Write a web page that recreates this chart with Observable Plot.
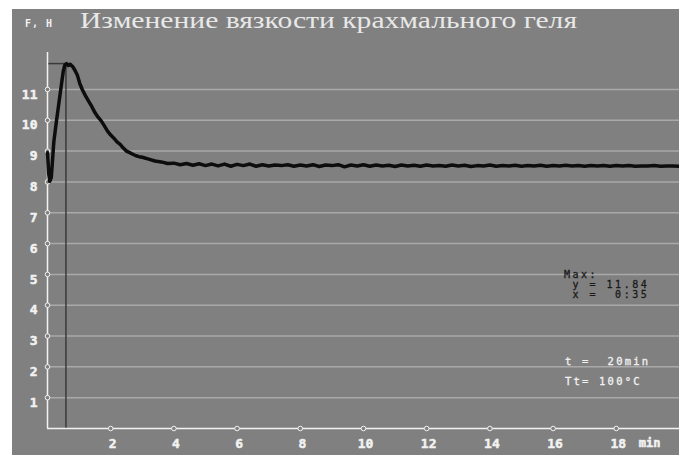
<!DOCTYPE html>
<html>
<head>
<meta charset="utf-8">
<script src="https://cdn.jsdelivr.net/npm/d3@7"></script>
<script src="https://cdn.jsdelivr.net/npm/@observablehq/plot@0.6"></script>
<style>
  html, body { margin: 0; padding: 0; background: #fff; }
  #wrap { position: relative; width: 679px; height: 455px; background: #fff; overflow: hidden; }
  #panel { position: absolute; left: 12px; top: 9px; width: 667px; height: 446px; background: #808080; }
  #overlay { position: absolute; left: 0; top: 0; pointer-events: none; }
  .mono { font-family: "DejaVu Sans Mono", "Liberation Mono", monospace; white-space: pre; }
  #panel svg text.tick { letter-spacing: 1px; }
</style>
</head>
<body>
<div id="wrap">
  <div id="panel"></div>
  <svg id="overlay" width="679" height="455" xmlns="http://www.w3.org/2000/svg"></svg>
</div>
<script>
// ---- data ----
const titleText = "Изменение вязкости крахмального геля";
const yUnitLabel = "F, Н";
const xUnitLabel = "min";
const yTicks = [1, 2, 3, 4, 5, 6, 7, 8, 9, 10, 11];
const xTicks = [2, 4, 6, 8, 10, 12, 14, 16, 18];
const maxValue = 11.84;
const maxTimeLabel = "0:35";
const maxTime = 35 / 60;
const durationLabel = "20min";
const tempLabel = "100°C";

const times = [
  0.00, 0.02, 0.04, 0.07, 0.12, 0.20, 0.28, 0.36, 0.44, 0.50,
  0.55, 0.60, 0.66, 0.72, 0.80, 0.88, 0.95, 1.02, 1.10, 1.20,
  1.30, 1.40, 1.50, 1.60, 1.70, 1.80, 1.90, 2.00, 2.10, 2.20,
  2.30, 2.40, 2.50, 2.60, 2.70, 2.80, 2.90,
  3.0, 3.2, 3.4, 3.6, 3.8, 4.0, 4.2, 4.4, 4.6, 4.8,
  5.0, 5.2, 5.4, 5.6, 5.8, 6.0, 6.2, 6.4, 6.6, 6.8,
  7.0, 7.2, 7.4, 7.6, 7.8, 8.0, 8.2, 8.4, 8.6, 8.8,
  9.0, 9.2, 9.4, 9.6, 9.8, 10.0, 10.2, 10.4, 10.6, 10.8,
  11.0, 11.2, 11.4, 11.6, 11.8, 12.0, 12.2, 12.4, 12.6, 12.8,
  13.0, 13.2, 13.4, 13.6, 13.8, 14.0, 14.2, 14.4, 14.6, 14.8,
  15.0, 15.2, 15.4, 15.6, 15.8, 16.0, 16.2, 16.4, 16.6, 16.8,
  17.0, 17.2, 17.4, 17.6, 17.8, 18.0, 18.2, 18.4, 18.6, 18.8,
  19.0, 19.2, 19.4, 19.6, 19.8, 20.0
];
const values = [
  8.95, 8.60, 8.25, 8.02, 8.15, 9.30, 9.95, 10.55, 11.15, 11.60,
  11.80, 11.84, 11.78, 11.82, 11.74, 11.60, 11.45, 11.20, 11.00, 10.80,
  10.62, 10.45, 10.25, 10.10, 9.98, 9.82, 9.65, 9.52, 9.42, 9.30,
  9.22, 9.10, 9.00, 8.95, 8.90, 8.85, 8.82,
  8.80, 8.74, 8.68, 8.65, 8.60, 8.61, 8.56, 8.60, 8.54, 8.59,
  8.53, 8.58, 8.52, 8.58, 8.51, 8.57, 8.53, 8.58, 8.51, 8.56,
  8.52, 8.55, 8.53, 8.56, 8.51, 8.55, 8.52, 8.56, 8.50, 8.55,
  8.53, 8.56, 8.49, 8.55, 8.52, 8.56, 8.51, 8.55, 8.52, 8.54,
  8.50, 8.55, 8.52, 8.54, 8.51, 8.55, 8.52, 8.53, 8.51, 8.55,
  8.52, 8.54, 8.50, 8.53, 8.52, 8.55, 8.51, 8.53, 8.52, 8.54,
  8.51, 8.53, 8.52, 8.54, 8.51, 8.53, 8.52, 8.54, 8.52, 8.53,
  8.51, 8.53, 8.52, 8.53, 8.51, 8.53, 8.52, 8.53, 8.51, 8.52,
  8.52, 8.53, 8.51, 8.52, 8.52, 8.51
];

const curve = times.map((t, i) => ({t, v: values[i]}));

const axisColor = "#f2f2f2";
const tickFont = {fontFamily: "DejaVu Sans Mono, monospace", fontSize: 13, fontWeight: "bold", fill: axisColor, stroke: axisColor, strokeWidth: 0.5, className: "tick"};

const chart = Plot.plot({
  width: 667,
  height: 446,
  marginLeft: 35,
  marginTop: 43,
  marginBottom: 27,
  marginRight: 0,
  x: {domain: [0, 20], axis: null},
  y: {domain: [0, 12.2], axis: null},
  style: {background: "transparent", overflow: "visible"},
  marks: [
    Plot.ruleY(yTicks, {stroke: "#a9a9a9", strokeWidth: 1.5}),
    Plot.ruleX([maxTime], {y1: 0, y2: maxValue, stroke: "#3a3a3a", strokeWidth: 1.5}),
    Plot.ruleY([maxValue], {x1: 0, x2: maxTime, stroke: "#3a3a3a", strokeWidth: 1.5}),
    Plot.ruleX([0], {y1: 0, y2: 12.2, stroke: axisColor, strokeWidth: 1.5}),
    Plot.ruleY([0], {stroke: axisColor, strokeWidth: 1.5}),
    Plot.dot(yTicks, {x: 0, y: d => d, r: 2.3, stroke: axisColor, fill: "#808080", strokeWidth: 1}),
    Plot.dot(xTicks, {x: d => d, y: 0, r: 2.3, stroke: axisColor, fill: "#808080", strokeWidth: 1}),
    Plot.text(yTicks, {x: 0, y: d => d, text: d => String(d), dx: -10, dy: 5, textAnchor: "end", lineAnchor: "middle", ...tickFont}),
    Plot.text(xTicks, {x: d => d, y: 0, text: d => String(d), dx: 2, dy: 15, textAnchor: "middle", lineAnchor: "middle", ...tickFont}),
    Plot.text([xUnitLabel], {frameAnchor: "bottom-right", text: d => d, dx: -19, dy: 15, textAnchor: "end", lineAnchor: "middle", ...tickFont, fontSize: 12}),
    Plot.line(curve, {x: "t", y: "v", stroke: "#0d0d0d", strokeWidth: 3.5, strokeLinejoin: "round"})
  ]
});
document.getElementById("panel").appendChild(chart);

// ---- overlay texts (title, unit, annotations) ----
const ov = d3.select("#overlay");
ov.append("text").attr("x", 25).attr("y", 27).attr("class", "mono")
  .attr("font-size", 10).attr("font-weight", "bold").attr("fill", axisColor)
  .attr("letter-spacing", 1).text(yUnitLabel);
ov.append("text").attr("x", 80).attr("y", 28)
  .attr("font-family", "Liberation Serif, serif").attr("font-size", 24)
  .attr("fill", "#e8e8e8").attr("textLength", 497).attr("lengthAdjust", "spacingAndGlyphs")
  .text(titleText);
const dark = "#1a1a1a";
[["Max:", 278], [" y = " + maxValue.toFixed(2), 288], [" x =  " + maxTimeLabel, 298]].forEach(([s, y]) => {
  ov.append("text").attr("x", 564).attr("y", y).attr("class", "mono")
    .attr("font-size", 10).attr("letter-spacing", 2.5)
    .attr("fill", dark).attr("stroke", dark).attr("stroke-width", 0.3).text(s);
});
[["t =  " + durationLabel, 365], ["Tt= " + tempLabel, 385]].forEach(([s, y]) => {
  ov.append("text").attr("x", 565).attr("y", y).attr("class", "mono")
    .attr("font-size", 10.5).attr("letter-spacing", 2.2)
    .attr("fill", axisColor).attr("stroke", axisColor).attr("stroke-width", 0.3).text(s);
});
</script>
</body>
</html>
